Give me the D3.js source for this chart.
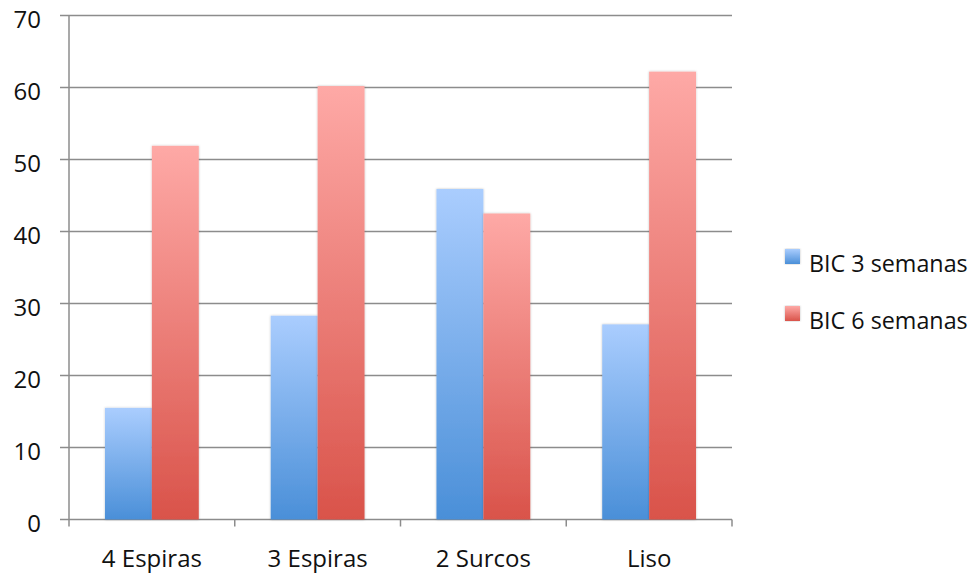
<!DOCTYPE html>
<html>
<head>
<meta charset="utf-8">
<script src="https://cdn.jsdelivr.net/npm/d3@7"></script>
<style>
  body { margin: 0; background: #fff; }
  svg { display: block; }
  text { font-family: "Open Sans", "Noto Sans", sans-serif; fill: #111; }
</style>
</head>
<body>
<svg id="chart" width="976" height="573"></svg>
<script>
const categories = ["4 Espiras", "3 Espiras", "2 Surcos", "Liso"];
const seriesNames = ["BIC 3 semanas", "BIC 6 semanas"];
const bic3 = [15.5, 28.3, 45.9, 27.1];
const bic6 = [51.9, 60.2, 42.5, 62.2];
const yTicks = [0, 10, 20, 30, 40, 50, 60, 70];

const svg = d3.select("#chart");
const plotLeft = 69, plotRight = 732, plotTop = 15.5, plotBottom = 519.5;

const x = d3.scaleBand().domain(categories).range([plotLeft, plotRight]).paddingInner(0.434).paddingOuter(0.217);
const xs = d3.scaleBand().domain(seriesNames).range([0, x.bandwidth()]);
const y = d3.scaleLinear().domain([0, 70]).range([plotBottom, plotTop]);

const defs = svg.append("defs");
function addGradient(id, topColor, bottomColor) {
  const lg = defs.append("linearGradient").attr("id", id)
    .attr("x1", 0).attr("x2", 0).attr("y1", 0).attr("y2", 1);
  lg.append("stop").attr("offset", "0%").attr("stop-color", topColor);
  lg.append("stop").attr("offset", "100%").attr("stop-color", bottomColor);
}
addGradient("gBlue", "#aacdfe", "#4a8fd8");
addGradient("gRed", "#fea9a6", "#d9534a");

const shadow = defs.append("filter").attr("id", "shadow").attr("x", "-20%").attr("y", "-5%").attr("width", "140%").attr("height", "110%");
shadow.append("feDropShadow").attr("dx", 0).attr("dy", 0).attr("stdDeviation", 1.2).attr("flood-color", "#000").attr("flood-opacity", 0.25);

// horizontal gridlines with small outward ticks
svg.append("g").selectAll("line").data(yTicks).join("line")
  .attr("x1", plotLeft - 9).attr("x2", plotRight)
  .attr("y1", d => y(d)).attr("y2", d => y(d))
  .attr("stroke", "#8c8c8c").attr("stroke-width", 1.5);

// y tick labels
svg.append("g").selectAll("text").data(yTicks).join("text")
  .attr("x", 41).attr("y", d => y(d) + 12.5)
  .attr("text-anchor", "end").attr("font-size", 24)
  .text(d => d);

// vertical axis line
svg.append("line").attr("x1", plotLeft).attr("x2", plotLeft).attr("y1", plotTop).attr("y2", plotBottom + 7)
  .attr("stroke", "#8c8c8c").attr("stroke-width", 1.5);

// category separator ticks
const sepTicks = categories.map(c => x(c) - x.step() * x.paddingInner() / 2).slice(1).concat([plotRight]);
svg.append("g").selectAll("line").data(sepTicks).join("line")
  .attr("x1", d => d).attr("x2", d => d).attr("y1", plotBottom).attr("y2", plotBottom + 7)
  .attr("stroke", "#8c8c8c").attr("stroke-width", 1.5);

// bars
const data = categories.map((c, i) => ({ c, vals: [bic3[i], bic6[i]] }));
const fills = ["url(#gBlue)", "url(#gRed)"];
const groups = svg.append("g").selectAll("g").data(data).join("g")
  .attr("transform", d => `translate(${x(d.c)},0)`);
groups.selectAll("rect").data(d => d.vals.map((v, k) => ({ v, k }))).join("rect")
  .attr("x", d => xs(seriesNames[d.k]))
  .attr("width", xs.bandwidth())
  .attr("y", d => y(d.v))
  .attr("height", d => plotBottom - y(d.v))
  .attr("fill", d => fills[d.k])
  .attr("filter", "url(#shadow)");

// category labels
svg.append("g").selectAll("text").data(categories).join("text")
  .attr("x", d => x(d) + x.bandwidth() / 2).attr("y", 566.5)
  .attr("text-anchor", "middle").attr("font-size", 24)
  .text(d => d);

// legend
const leg = svg.append("g").selectAll("g").data(seriesNames).join("g")
  .attr("transform", (d, i) => `translate(785,${249 + i * 57})`);
leg.append("rect").attr("x", 0).attr("y", 0).attr("width", 15).attr("height", 15)
  .attr("fill", (d, i) => fills[i]).attr("filter", "url(#shadow)");
leg.append("text").attr("x", 24).attr("y", 22.5)
  .attr("font-size", 23.3).text(d => d);
</script>
</body>
</html>
